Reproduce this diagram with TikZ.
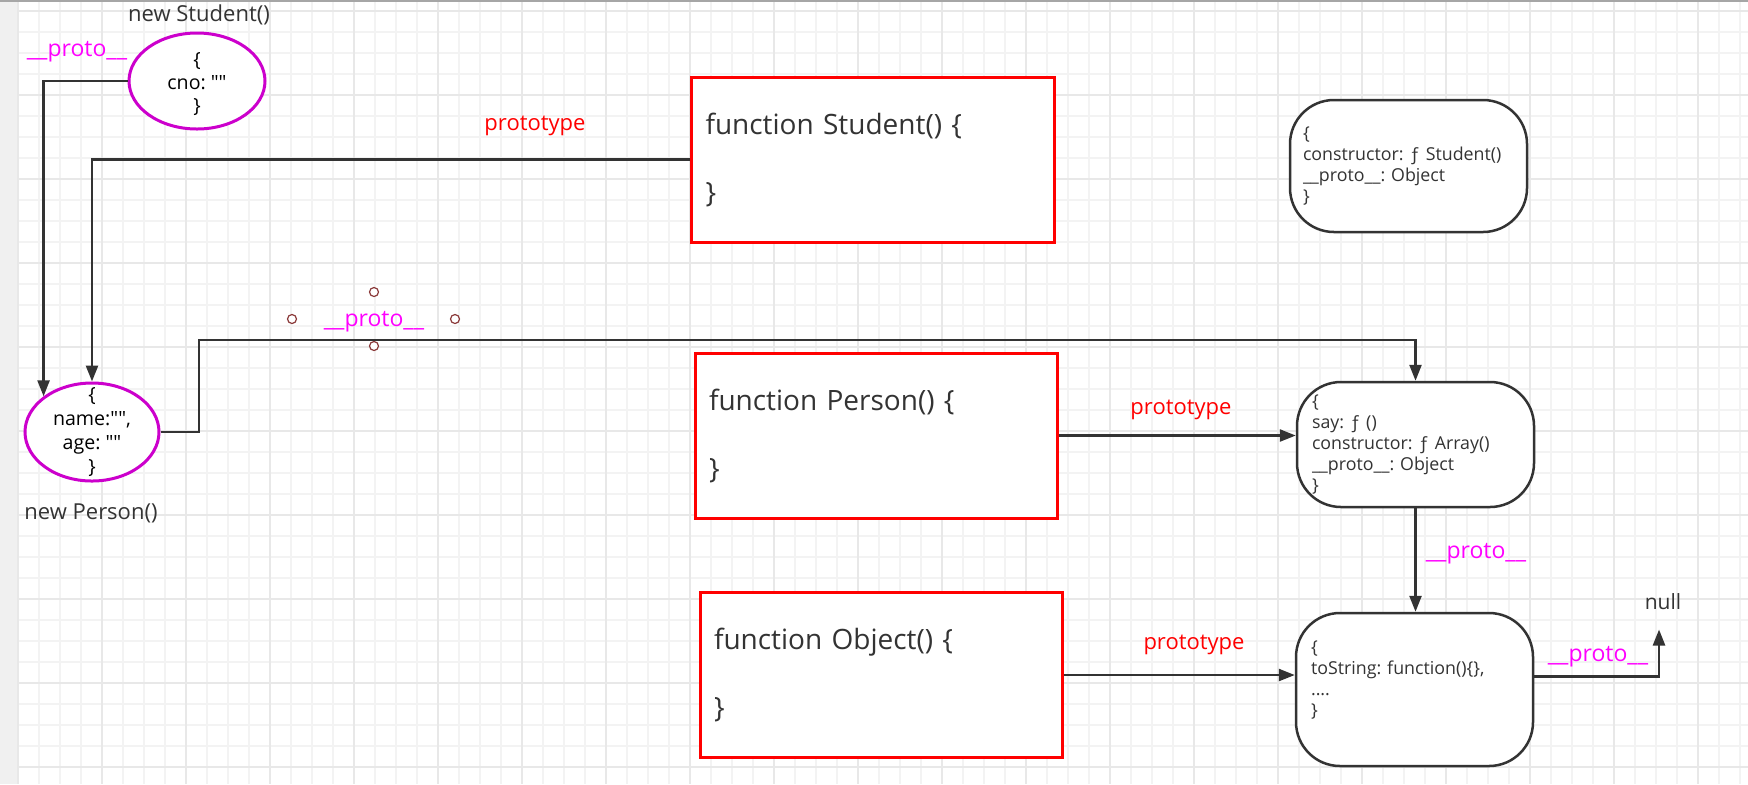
\documentclass[tikz,border=0pt]{standalone}
\usepackage{fontspec}
\setmainfont{Open Sans}
\usetikzlibrary{arrows.meta,shapes.geometric}
\frenchspacing

\definecolor{connGray}{HTML}{333333}
\definecolor{txtGray}{HTML}{333333}
\definecolor{fnRed}{HTML}{FF0000}
\definecolor{objMagenta}{HTML}{CC00CC}
\definecolor{lblMagenta}{HTML}{FF00FF}
\definecolor{handleRed}{HTML}{8B3A3A}
\definecolor{gridMinor}{HTML}{F3F3F3}
\definecolor{gridMajor}{HTML}{E8E8E8}
\definecolor{stripGray}{HTML}{F0F0F0}
\definecolor{topGray}{HTML}{A6A6A6}

\begin{document}
\begin{tikzpicture}[x=0.5pt, y=-0.5pt,
        gridminor/.style={draw=gridMinor, line width=0.6pt},
        gridmajor/.style={draw=gridMajor, line width=0.6pt},
        fnbox/.style={draw=fnRed, line width=1.5pt, fill=white, rectangle, minimum width=181pt, minimum height=82.5pt, inner xsep=7pt, text width=167pt, align=left, text=txtGray, font=\fontsize{14}{17}\selectfont},
        protobox/.style={draw=connGray, line width=1.25pt, fill=white, rounded corners=22pt, minimum width=118.5pt, inner xsep=7.5pt, text width=103.5pt, align=left, text=txtGray, font=\fontsize{8.9}{10.5}\selectfont},
        objell/.style={draw=objMagenta, line width=1.5pt, fill=white, ellipse, inner sep=0pt},
        objtxt/.style={align=center, inner sep=0pt, text=black, font=\fontsize{9.8}{11.5}\selectfont},
        nametxt/.style={text=txtGray, inner sep=0pt, font=\fontsize{11}{13}\selectfont},
        protolbl/.style={text=lblMagenta, inner sep=0pt, font=\fontsize{11.5}{13}\selectfont},
        prototypelbl/.style={text=fnRed, inner sep=0pt, font=\fontsize{11}{13}\selectfont},
        handle/.style={circle, draw=handleRed, line width=0.6pt, fill=white, minimum size=4.5pt, inner sep=0pt},
        conn/.style={draw=connGray, line width=1.25pt, -{Triangle[length=8pt,width=6pt]}}
    ]
        \useasboundingbox (0,0) rectangle (1748,784);
        % Canvas grid:
        \fill[white] (0,0) rectangle (1748,784);
        \fill[stripGray] (0,0) rectangle (17,784);
        \foreach \gx in {18,39,...,1748} \draw[gridminor] (\gx,0) -- (\gx,784);
        \foreach \gy in {11,32,...,784} \draw[gridminor] (17,\gy) -- (1748,\gy);
        \foreach \gx in {18,102,...,1748} \draw[gridmajor] (\gx,0) -- (\gx,784);
        \foreach \gy in {11,95,...,784} \draw[gridmajor] (17,\gy) -- (1748,\gy);
        \fill[topGray] (0,0) rectangle (1748,2);

        % Instances:
        \node[objell, minimum width=68pt, minimum height=48pt] (stuObj) at (197,81) {};
        \node[objtxt] (stuObjTxt) at (197,84) {\{\\cno: \textquotedbl\textquotedbl\\\}};
        \node[nametxt] (stuName) at (199,15) {new Student()};
        \node[objell, minimum width=67pt, minimum height=49pt] (perObj) at (92,432) {};
        \node[objtxt, font=\fontsize{9.8}{12}\selectfont] (perObjTxt) at (92,432) {\{\\name:\textquotedbl\textquotedbl,\\age: \textquotedbl\textquotedbl\\\}};
        \node[nametxt] (perName) at (91,513) {new Person()};

        % Constructors:
        \node[fnbox, minimum width=181.5pt] (stuFn) at (872.5,159.5) {function Student() \{\\[17pt]\}};
        \node[fnbox] (perFn) at (876,435.5) {function Person() \{\\[17pt]\}};
        \node[fnbox] (objFn) at (881,675) {function Object() \{\\[17pt]\}};

        % Prototype objects:
        \node[protobox, minimum height=66pt, inner xsep=6.5pt, text width=105.5pt] (stuProto) at (1408.5,166) {\{\\constructor: ƒ Student()\\\_\_proto\_\_: Object\\\}};
        \node[protobox, minimum height=62.5pt] (perProto) at (1415.5,444.5) {\{\\say: ƒ ()\\constructor: ƒ Array()\\\_\_proto\_\_: Object\\\}};
        \node[protobox, minimum height=76.5pt] (objProto) at (1414.5,689.5) {\{\\toString: function()\{\},\\....\\\}\\\mbox{}};
        \node[nametxt, font=\fontsize{10.5}{13}\selectfont] (nullLbl) at (1663,602) {null};

        % Labels:
        \node[protolbl] (lblStuObj) at (77,52) {\_\_proto\_\_};
        \node[prototypelbl] (lblStuFn) at (535,126) {prototype};
        \node[protolbl] (lblPerObj) at (374,322) {\_\_proto\_\_};
        \node[handle] (hTop) at (374,292) {};
        \node[handle] (hLeft) at (292,319) {};
        \node[handle] (hRight) at (455,319) {};
        \node[handle] (hBottom) at (374,346) {};
        \node[prototypelbl] (lblPerFn) at (1181,410) {prototype};
        \node[protolbl] (lblPerProto) at (1476,554) {\_\_proto\_\_};
        \node[prototypelbl] (lblObjFn) at (1194,645) {prototype};
        \node[protolbl] (lblObjProto) at (1598,657) {\_\_proto\_\_};

        % Links:
        \coordinate (perBend) at (199,340);
        \draw[conn] (stuObj.west) -| (perObj.north west);
        \draw[conn] (stuFn.west) -| (perObj.north);
        \draw[conn] (perObj.east) -| (perBend) -| (perProto.north);
        \draw[conn] (perFn.east) -- (perFn.east -| perProto.west);
        \draw[conn] (perProto.south) -- (perProto.south |- objProto.north);
        \draw[conn] (objFn.east) -- (objFn.east -| objProto.west);
        \draw[conn] ([yshift=6.5pt]objProto.east) -| ([xshift=-2pt, yshift=-9.5pt]nullLbl.south);
    \end{tikzpicture}
\end{document}
